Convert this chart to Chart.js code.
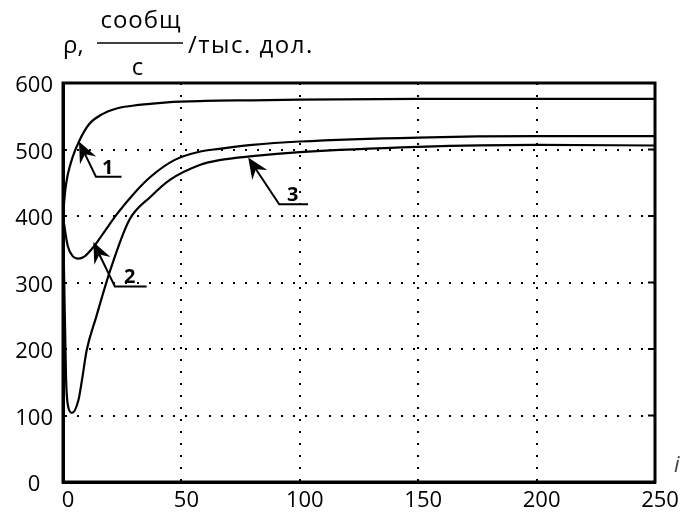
<!DOCTYPE html>
<html>
<head>
<meta charset="utf-8">
<script src="https://cdn.jsdelivr.net/npm/chart.js@4.4.1/dist/chart.umd.min.js"></script>
<style>
  html, body { margin: 0; padding: 0; background: #fff; }
  #wrap { position: relative; width: 682px; height: 513px; }
</style>
</head>
<body>
<div id="wrap"><canvas id="chartRho"></canvas></div>
<script>
// деления осей
const xTicks = [0, 50, 100, 150, 200, 250];
const yTicks = [0, 100, 200, 300, 400, 500, 600];

// кривая 1
const x1 = [0, 1, 2, 4, 7, 11, 16, 23, 32, 44, 60, 80, 100, 150, 200, 250];
const y1 = [400, 440, 462, 488, 514, 538, 552, 562, 567, 571, 573, 574, 575, 576, 576, 576];

// кривая 2
const x2 = [0, 1, 2, 4, 6.5, 9, 13, 17, 23, 30, 37, 47, 58, 66, 80, 100, 150, 200, 250];
const y2 = [400, 375, 355, 340, 336, 339, 354, 374, 404, 434, 459, 484, 497, 501, 507, 512, 518, 520, 520];

// кривая 3
const x3 = [0, 0.5, 1.3, 2.2, 3.8, 6.5, 8, 10, 14, 20, 28, 37, 45, 58, 66, 80, 100, 150, 200, 250];
const y3 = [400, 304, 155, 113, 104, 123, 153, 198, 248, 319, 394, 429, 454, 477, 484, 490, 496, 504, 507, 506];

// стрелки с номерами кривых (в единицах осей)
const arrowNames = ['1', '2', '3'];
const arrowTipX = [6.75, 12.8, 78.2];
const arrowTipY = [512, 361, 488];
const arrowElbowX = [13.9, 21.9, 91.3];
const arrowElbowY = [459, 294, 417.6];
const arrowEndX = [24.7, 35.3, 103.5];

const FONT = '"Open Sans", "DejaVu Sans", sans-serif';

function toPoints(xs, ys) {
    return xs.map((x, i) => ({ x: x, y: ys[i] }));
}

function curve(xs, ys) {
    return {
        data: toPoints(xs, ys),
        borderColor: '#000',
        borderWidth: 2.2,
        pointRadius: 0,
        fill: false,
        cubicInterpolationMode: 'monotone'
    };
}

// рамка, стрелки, подписи осей
const extras = {
    id: 'extras',
    afterDraw(chart) {
        const ctx = chart.ctx;
        const a = chart.chartArea;
        const sx = chart.scales.x, sy = chart.scales.y;
        ctx.save();

        // рамка и короткие риски справа
        ctx.strokeStyle = '#000';
        ctx.lineWidth = 3;
        ctx.strokeRect(a.left, a.top, a.right - a.left, a.bottom - a.top);
        ctx.lineWidth = 2;
        yTicks.forEach(v => {
            const py = sy.getPixelForValue(v);
            ctx.beginPath();
            ctx.moveTo(a.right - 7, py);
            ctx.lineTo(a.right, py);
            ctx.stroke();
        });

        // стрелки
        ctx.fillStyle = '#000';
        for (let i = 0; i < arrowNames.length; i++) {
            const tx = sx.getPixelForValue(arrowTipX[i]), ty = sy.getPixelForValue(arrowTipY[i]);
            const ex = sx.getPixelForValue(arrowElbowX[i]), ey = sy.getPixelForValue(arrowElbowY[i]);
            const fx = sx.getPixelForValue(arrowEndX[i]);
            const ang = Math.atan2(ey - ty, ex - tx);
            const ux = Math.cos(ang), uy = Math.sin(ang);
            ctx.lineWidth = 2;
            ctx.beginPath();
            ctx.moveTo(tx + ux * 12, ty + uy * 12);
            ctx.lineTo(ex, ey);
            ctx.lineTo(fx, ey);
            ctx.stroke();
            // наконечник
            const L = 21, W = 9, N = 14;
            ctx.beginPath();
            ctx.moveTo(tx, ty);
            ctx.lineTo(tx + ux * L - uy * W, ty + uy * L + ux * W);
            ctx.lineTo(tx + ux * N, ty + uy * N);
            ctx.lineTo(tx + ux * L + uy * W, ty + uy * L - ux * W);
            ctx.closePath();
            ctx.fill();
            // номер
            ctx.font = 'bold 20px ' + FONT;
            ctx.textAlign = 'center';
            ctx.textBaseline = 'alphabetic';
            ctx.fillText(arrowNames[i], (ex + fx) / 2 - 1, ey - 3);
        }

        // заголовок оси y
        ctx.font = '24px ' + FONT;
        ctx.textAlign = 'left';
        ctx.textBaseline = 'alphabetic';
        ctx.fillText('\u03C1,', 63, 53);
        ctx.letterSpacing = '1px';
        ctx.textAlign = 'center';
        ctx.fillText('сообщ', 141, 28);
        ctx.fillText('с', 138, 75);
        ctx.letterSpacing = '1.5px';
        ctx.textAlign = 'left';
        ctx.fillText('/тыс. дол.', 188, 53);
        ctx.letterSpacing = '0px';
        ctx.lineWidth = 1.5;
        ctx.beginPath();
        ctx.moveTo(97, 43);
        ctx.lineTo(183, 43);
        ctx.stroke();

        // подпись оси x
        ctx.font = 'italic 22px ' + FONT;
        ctx.fillStyle = '#444';
        ctx.textBaseline = 'middle';
        ctx.fillText('i', 674, 466);
        ctx.restore();
    }
};

new Chart(document.getElementById('chartRho'), {
    type: 'line',
    data: {
        datasets: [curve(x1, y1), curve(x2, y2), curve(x3, y3)]
    },
    options: {
        responsive: true,
        maintainAspectRatio: false,
        animation: false,
        layout: { padding: { top: 83, right: 27, left: 0, bottom: 0 } },
        plugins: { legend: { display: false }, tooltip: { enabled: false } },
        scales: {
            x: {
                type: 'linear',
                min: 0,
                max: 250,
                afterBuildTicks: s => { s.ticks = xTicks.map(v => ({ value: v })); },
                afterFit: s => { s.height = 31; },
                grid: { color: '#000', lineWidth: 2, drawTicks: false },
                border: { color: '#000', width: 3, dash: [2, 10] },
                ticks: {
                    color: '#000',
                    font: { family: FONT, size: 22 },
                    padding: 6,
                    labelOffset: 5,
                    maxRotation: 0,
                    autoSkip: false
                }
            },
            y: {
                min: 0,
                max: 600,
                afterBuildTicks: s => { s.ticks = yTicks.map(v => ({ value: v })); },
                afterFit: s => { s.width = 63; },
                grid: { color: '#000', lineWidth: 2, drawTicks: false },
                border: { color: '#000', width: 3, dash: [2, 10] },
                ticks: {
                    color: '#000',
                    font: { family: FONT, size: 22 },
                    padding: 10,
                    labelOffset: 3,
                    crossAlign: 'center',
                    autoSkip: false
                }
            }
        }
    },
    plugins: [extras]
});
</script>
</body>
</html>
